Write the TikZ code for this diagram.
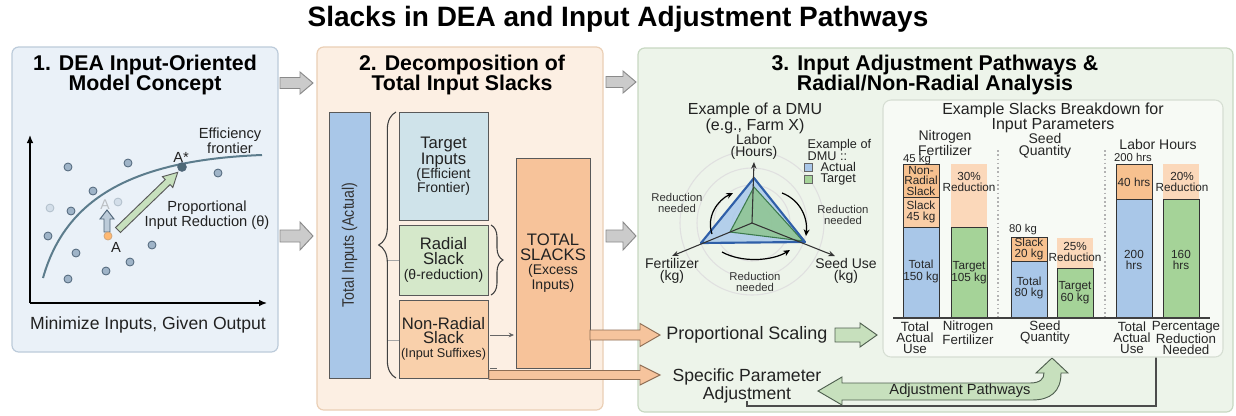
\documentclass[tikz,border=0pt]{standalone}
\usepackage{fontspec}
\setmainfont{Liberation Sans}
\usetikzlibrary{arrows.meta,decorations.pathreplacing}
\definecolor{txt}{HTML}{222222}
\definecolor{p1fill}{HTML}{EAF1F8}\definecolor{p1draw}{HTML}{BCCBDA}
\definecolor{p2fill}{HTML}{FCEFE3}\definecolor{p2draw}{HTML}{EBCFB5}
\definecolor{p3fill}{HTML}{EDF4EA}\definecolor{p3draw}{HTML}{C8D8C2}
\definecolor{bdfill}{HTML}{F7FAF5}\definecolor{bddraw}{HTML}{D6DED3}
\definecolor{barblue}{HTML}{A9C7E8}\definecolor{bargreen}{HTML}{A5D398}
\definecolor{barorange}{HTML}{F7C18F}\definecolor{barpeach}{HTML}{FBD8BA}
\definecolor{barslack}{HTML}{F9CDA6}
\definecolor{tgtblue}{HTML}{CFE3EA}\definecolor{radgreen}{HTML}{D5E8CA}
\definecolor{nrpeach}{HTML}{F9D0AB}\definecolor{totpeach}{HTML}{F7C39A}
\definecolor{garrow}{HTML}{CBCBCB}\definecolor{garrowd}{HTML}{8A8A8A}
\definecolor{oarrow}{HTML}{F6C49D}\definecolor{oarrowd}{HTML}{8E6E55}
\definecolor{grarrow}{HTML}{C7E0BD}\definecolor{grarrowd}{HTML}{4F5F4F}
\definecolor{dotc}{HTML}{9FB4C8}\definecolor{dotd}{HTML}{4E6478}
\definecolor{front}{HTML}{5C7C8C}
\definecolor{trib}{HTML}{A9C9EA}\definecolor{tribd}{HTML}{2F5FA8}
\definecolor{trig}{HTML}{8CC48A}\definecolor{trigd}{HTML}{3C7A4C}
\newcommand\fs[2]{\fontsize{#1}{#2}\selectfont}
\newcommand\harrow[7]{\draw[#1] (#2,{#4-#5}) -- ({#3-#7},{#4-#5}) -- ({#3-#7},{#4-#6}) -- (#3,#4) -- ({#3-#7},{#4+#6}) -- ({#3-#7},{#4+#5}) -- (#2,{#4+#5}) -- cycle;}
\tikzset{
  panel/.style={rounded corners=5pt, line width=0.9pt},
  ptitle/.style={font=\bfseries\fs{16}{15}, align=center, text=black},
  rect/.style={draw=black!65, line width=0.7pt, inner sep=0pt},
  gray arrow/.style={fill=garrow, draw=garrowd, line width=0.7pt},
  orange arrow/.style={fill=oarrow, draw=oarrowd, line width=0.7pt},
  green arrow/.style={fill=grarrow, draw=grarrowd, line width=0.7pt},
  dotn/.style={circle, fill=dotc, draw=dotd, line width=0.6pt, minimum size=6pt, inner sep=0pt},
  bar/.style={draw=black!80, line width=0.7pt},
  bt/.style={font=\fs{8.5}{8}, align=center, text=black!85},
  lab/.style={font=\fs{10}{8.2}, align=center, text=black!85},
  small/.style={font=\fs{8.5}{8.2}, align=center, text=black!80},
  axisline/.style={draw=black!80, line width=0.8pt, -{Stealth[length=5pt,width=4pt]}},
  curvy/.style={draw=black, line width=0.9pt, -{Stealth[length=5pt,width=4.5pt]}},
  every node/.append style={text=txt}
}
\begin{document}
\begin{tikzpicture}[x=0.75pt,y=-0.75pt]
\useasboundingbox (0,0) rectangle (1236,415);
\fill[white] (0,0) rectangle (1236,415);

\node[font=\bfseries\fs{21}{25}, text=black] (title) at (618,19) {Slacks in DEA and Input Adjustment Pathways};

% panels
\draw[panel, fill=p1fill, draw=p1draw] (12,47) rectangle (278,352);
\draw[panel, fill=p2fill, draw=p2draw] (317,47) rectangle (603,410);
\draw[panel, fill=p3fill, draw=p3draw] (638,48) rectangle (1233,412);

\node[ptitle] (t1) at (145,75) {1. DEA Input-Oriented\\Model Concept};
\node[ptitle] (t2) at (462,75) {2. Decomposition of\\Total Input Slacks};
\node[ptitle] (t3) at (935,75) {3. Input Adjustment Pathways \&\\Radial/Non-Radial Analysis};

% gray arrows between panels
\harrow{gray arrow}{280}{313}{83}{5.5}{11}{13}
\harrow{gray arrow}{280}{313}{236}{6}{14}{13}
\harrow{gray arrow}{606}{636}{82}{5.5}{11}{13}
\harrow{gray arrow}{606}{636}{236}{6}{14}{13}

% ---------- panel 1 ----------
\coordinate (orig) at (30,303);
\coordinate (ytop) at (30,135);
\coordinate (xend) at (267,303);
\draw[line width=1pt, -{Latex[length=6pt,width=5pt]}] (orig) -- (ytop);
\draw[line width=1pt, -{Latex[length=6pt,width=5pt]}] (orig) -- (xend);
\draw[front, line width=1.5pt] (43,278) .. controls (65,200) and (130,160) .. (262,155);
\foreach \p [count=\i] in {(68,167),(128,163),(218,173),(93,191),(71,211),(48,236),(76,253),(152,245),(130,262),(106,271),(68,279)}
  \node[dotn] (d\i) at \p {};
\node[dotn, opacity=0.3] (f1) at (50,208) {};
\node[dotn, opacity=0.3] (f2) at (118,202) {};
\node[text=gray, opacity=0.45, font=\fs{10.5}{12}] (fA) at (105,205) {A};
\begin{scope}[shift={(118,230)}, rotate=44]
\harrow{fill=grarrow, draw=black!65, line width=0.7pt}{0}{83}{0}{3.5}{7.5}{14}
\end{scope}
\begin{scope}[shift={(107,232)}, rotate=90]
\harrow{fill=dotc!70, draw=dotd, line width=0.7pt}{0}{22}{0}{3}{7}{9}
\end{scope}
\node[circle, fill=orange!55!white, draw=brown!70, line width=0.6pt, minimum size=6pt, inner sep=0pt] (A) at (108,236) {};
\node[circle, fill=front!85!black, draw=dotd, line width=0.6pt, minimum size=6.5pt, inner sep=0pt] (As) at (182,167) {};
\node[font=\fs{11}{12}] (Al) at (116,247) {A};
\node[font=\fs{11}{12}] (Asl) at (181,157) {A*};
\node[font=\fs{11}{9.8}, align=center] (ef) at (230,141) {Efficiency\\frontier};
\node[font=\fs{11}{11.2}, align=center] (pr) at (207,215) {Proportional\\Input Reduction (θ)};
\node[font=\fs{13.2}{15}] (mi) at (148,325) {Minimize Inputs, Given Output};

% ---------- panel 2 ----------
\node[rect, fill=barblue, minimum width=30.75pt, minimum height=199.5pt] (tot) at (349.5,245) {};
\node[rotate=90, font=\fs{12.5}{14}, text=black!80] (totl) at (tot.center) {\scalebox{0.85}[1]{Total Inputs (Actual)}};
\node[rect, fill=tgtblue, minimum width=66.75pt, minimum height=81pt, align=center, font=\fs{12.5}{10.5}] (tgt) at (443.5,166)
  {Target\\Inputs\\{\fs{10.5}{10.5}(Efficient}\\{\fs{10.5}{10.5}Frontier)}};
\node[rect, fill=radgreen, minimum width=66.75pt, minimum height=52.5pt, align=center, font=\fs{12.5}{11}] (rad) at (443.5,260)
  {Radial\\Slack\\{\fs{10.5}{11}(θ-reduction)}};
\node[rect, fill=nrpeach, minimum width=66.75pt, minimum height=58.5pt, align=center, font=\fs{12.5}{10.5}] (nr) at (443.5,339)
  {Non-Radial\\Slack\\{\fs{9.5}{10}(Input Suffixes)}};
\node[rect, fill=totpeach, minimum width=55.5pt, minimum height=157.5pt, align=center, font=\fs{12.5}{11}] (ts) at (553,263)
  {TOTAL\\SLACKS\\{\fs{10.5}{10}(Excess}\\{\fs{10.5}{10}Inputs)}};
\draw[black!75, line width=0.8pt, decorate, decoration={brace, amplitude=13pt}] (396,378) -- (396,112);
\draw[black!75, line width=0.8pt, decorate, decoration={brace, amplitude=9pt}] (491,225) -- (491,295);
\draw[black!35, line width=0.6pt] (388,260) -- (rad.west);
\draw[black!35, line width=0.6pt] (388,340) -- (nr.west |- 0,340);
\coordinate (nrA) at (490,335);
\coordinate (tsA) at (514,335);
\draw[black!60, line width=0.6pt, -{Stealth[length=4pt,width=3.5pt]}] (nrA) -- (tsA);
\draw[black!60, line width=0.6pt] (490,368) -- (497,368);

% orange arrows
\harrow{orange arrow}{590}{660}{335}{5}{11.5}{20}
\harrow{orange arrow}{489}{660}{375}{4.5}{10}{20}

% ---------- panel 3 : radar ----------
\node[font=\fs{12}{9.75}, align=center] (dmu) at (755,118) {Example of a DMU\\(e.g., Farm X)};
\coordinate (rc) at (752,223);
\foreach \r in {20,38,55,72} \draw[black!12, line width=0.8pt] (rc) circle[radius=\r];
\fill[trib, opacity=0.85] (754,178) -- (701,243) -- (805,242) -- cycle;
\draw[trigd, line width=0.8pt, fill=trig, fill opacity=0.8] (754,187) -- (730,232) -- (803,241) -- cycle;
\draw[tribd, line width=1.6pt, line join=round] (754,178) -- (701,243) -- (805,242) -- cycle;
\coordinate (lab) at (754,162);
\coordinate (fer) at (672,256);
\coordinate (see) at (835,256);
\draw[axisline] (rc) -- (lab);
\draw[axisline] (rc) -- (fer);
\draw[axisline] (rc) -- (see);
\node[font=\fs{10.5}{7.5}, align=center] (labl) at (754,147) {Labor\\(Hours)};
\node[font=\fs{10.5}{9}, align=center] (ferl) at (672,271) {Fertilizer\\(kg)};
\node[font=\fs{10.5}{9}, align=center] (seel) at (846,271) {Seed Use\\(kg)};
\node[small] (r1) at (677,203) {Reduction\\needed};
\node[small] (r2) at (843,215) {Reduction\\needed};
\node[small] (r3) at (755,282) {Reduction\\needed};
\draw[curvy] (712,234) .. controls (706,216) and (718,200) .. (733,193);
\draw[curvy] (782,193) .. controls (798,199) and (808,215) .. (806,236);
\draw[curvy] (722,252) .. controls (742,263) and (772,261) .. (790,250);
\node[font=\fs{9.5}{7}, align=left, anchor=west] (leg) at (803,150) {Example of\\DMU ::};
\draw[fill=barblue, draw=black!60, line width=0.5pt] (804,163) rectangle (812,171);
\draw[fill=bargreen, draw=black!60, line width=0.5pt] (804,175) rectangle (812,183);
\node[font=\fs{9.5}{9.5}, anchor=west] (lega) at (816,167) {Actual};
\node[font=\fs{9.5}{9.5}, anchor=west] (legt) at (816,179) {Target};

% pathways
\node[font=\fs{13.5}{15}] (ps) at (747,335) {Proportional Scaling};
\harrow{green arrow}{835}{877}{335}{7}{12}{17}
\node[font=\fs{13.2}{12}, align=center] (spa) at (747,386) {Specific Parameter\\Adjustment};
\draw[black!70, line width=0.8pt] (1156,357) -- (1156,406) -- (747,406) -- (747,401);
\draw[green arrow] (818,391) -- (842,377) -- (842,383) -- (1030,383)
  .. controls (1040,383) and (1044,379) .. (1044,373) -- (1036,373) -- (1052,358) -- (1068,373) -- (1061,373)
  .. controls (1061,392) and (1050,400) .. (1032,400) -- (842,400) -- (842,405) -- cycle;
\node[font=\fs{11}{12}] (apl) at (960,391) {Adjustment Pathways};

% ---------- breakdown box ----------
\draw[rounded corners=6pt, fill=bdfill, draw=bddraw, line width=0.8pt] (883,100) rectangle (1223,357);
\node[font=\fs{12}{10}, align=center] (bdt) at (1053,118) {Example Slacks Breakdown for\\Input Parameters};
\draw[black!30, dotted, line width=1.2pt] (998,150) -- (998,318);
\draw[black!30, dotted, line width=1.2pt] (1105,150) -- (1105,318);
\node[lab, font=\fs{10.5}{8.6}] (g1) at (945,143) {Nitrogen\\Fertilizer};
\node[lab, font=\fs{10.5}{8.6}] (g2) at (1045,146) {Seed\\Quantity};
\node[lab, font=\fs{10.5}{8.6}] (g3) at (1158,144) {Labor Hours};
% bar 1
\draw[bar, fill=barorange] (903,164) rectangle (939,197);
\draw[bar, fill=barslack] (903,197) rectangle (939,227);
\draw[bar, fill=barblue] (903,227) rectangle (939,318);
% bar 2
\fill[barpeach] (951,164) rectangle (987,227);
\draw[bar, fill=bargreen] (951,227) rectangle (987,318);
% bar 3
\draw[bar, fill=barorange] (1011,237) rectangle (1047,261);
\draw[bar, fill=barblue] (1011,261) rectangle (1047,318);
% bar 4
\fill[barpeach] (1057,238) rectangle (1093,268);
\draw[bar, fill=bargreen] (1057,268) rectangle (1093,318);
% bar 5
\draw[bar, fill=barorange] (1116,164) rectangle (1152,199);
\draw[bar, fill=barblue] (1116,199) rectangle (1152,318);
% bar 6
\fill[barpeach] (1163,164) rectangle (1199,199);
\draw[bar, fill=bargreen] (1163,199) rectangle (1199,318);
\draw[black!75, line width=0.8pt] (893,318) -- (1210,318);

\node[bt] (b1t) at (917,159.5) {45 kg};
\node[bt, font=\fs{8.8}{7.6}] (b1a) at (921,181) {Non-\\Radial\\Slack};
\node[bt, font=\fs{8.8}{7.6}] (b1b) at (921,212) {Slack\\45 kg};
\node[bt, font=\fs{8.8}{9}] (b1c) at (921,271) {Total\\150 kg};
\node[bt, font=\fs{8.8}{8}] (b2a) at (969,182) {30\%\\Reduction};
\node[bt, font=\fs{8.8}{8}] (b2b) at (969,273) {Target\\105 kg};
\node[bt] (b3t) at (1023,230) {80 kg};
\node[bt, font=\fs{8.8}{7.6}] (b3a) at (1029,249) {Slack\\20 kg};
\node[bt, font=\fs{8.8}{8}] (b3b) at (1029,288) {Total\\80 kg};
\node[bt, font=\fs{8.8}{8}] (b4a) at (1075,252) {25\%\\Reduction};
\node[bt, font=\fs{8.8}{8}] (b4b) at (1075,293) {Target\\60 kg};
\node[bt] (b5t) at (1133,157.5) {200 hrs};
\node[bt, font=\fs{8.8}{8}] (b5a) at (1134,182) {40 hrs};
\node[bt, font=\fs{8.8}{8}] (b5b) at (1134,260) {200\\hrs};
\node[bt, font=\fs{8.8}{8}] (b6a) at (1182,182) {20\%\\Reduction};
\node[bt, font=\fs{8.8}{8}] (b6b) at (1181,260) {160\\hrs};

\node[lab] (x1) at (915,338) {Total\\Actual\\Use};
\node[lab] (x2) at (968,333) {Nitrogen\\Fertilizer};
\node[lab] (x3) at (1045,333) {Seed\\Quantity};
\node[lab] (x4) at (1132,338) {Total\\Actual\\Use};
\node[lab] (x5) at (1186,338) {Percentage\\Reduction\\Needed};
\end{tikzpicture}
\end{document}
